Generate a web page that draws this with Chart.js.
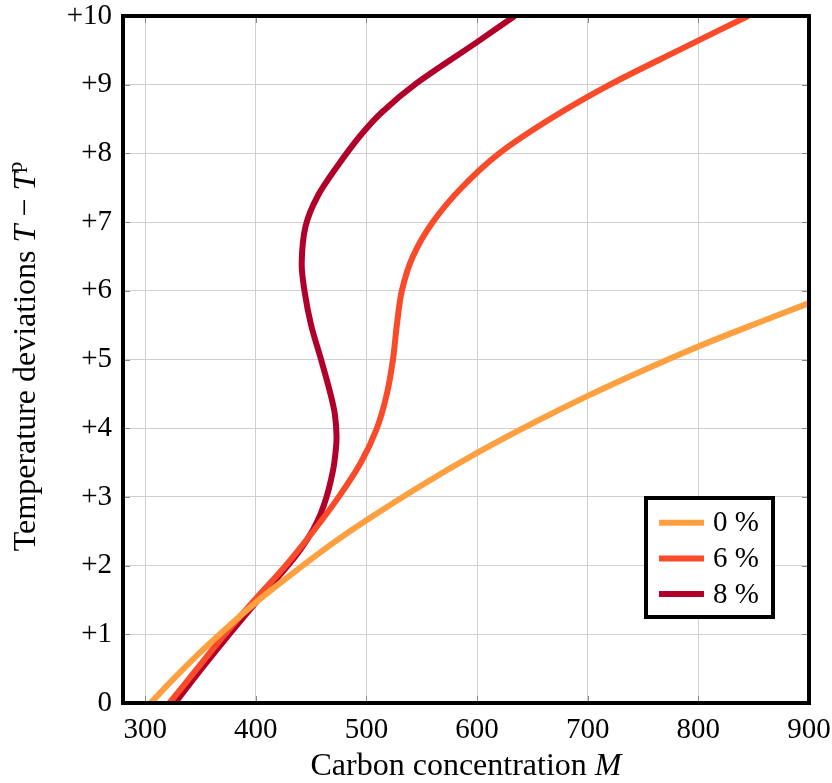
<!DOCTYPE html>
<html>
<head>
<meta charset="utf-8">
<script src="https://cdn.jsdelivr.net/npm/chart.js@4"></script>
<style>
  html, body { margin: 0; padding: 0; background: #fff; }
  #wrap { width: 832px; height: 783px; }
</style>
</head>
<body>
<div id="wrap"><canvas id="chart" width="832" height="783"></canvas></div>
<script>
// ---- data ----
const seriesLabels = ['0 %', '6 %', '8 %'];
const seriesColors = ['#fe9f40', '#f94a29', '#b1002a'];

// 0 %
const m0 = [305, 325, 350, 375, 405, 436, 470, 500, 550, 600, 650, 700, 750, 800, 850, 900];
const t0 = [0, 0.34, 0.74, 1.11, 1.53, 1.92, 2.33, 2.66, 3.17, 3.64, 4.07, 4.47, 4.84, 5.19, 5.51, 5.82];

// 6 %
const m6 = [322, 347, 372, 399, 427, 452, 475, 495, 509.5, 518.5, 524, 527.5, 532, 542, 560, 586, 620, 666, 720, 782, 845];
const t6 = [0, 0.5, 1.0, 1.5, 2.0, 2.5, 3.0, 3.5, 4.0, 4.5, 5.0, 5.5, 6.0, 6.5, 7.0, 7.5, 8.0, 8.5, 9.0, 9.5, 10];

// 8 %
const m8 = [327, 351, 376, 402, 429, 441, 451, 458.5, 464, 468, 471, 473, 471.5, 467.5, 459, 450, 444, 441.5, 445, 456, 474, 494, 514, 546, 600, 634];
const t8 = [0, 0.5, 1.0, 1.5, 2.0, 2.25, 2.5, 2.75, 3.0, 3.25, 3.5, 3.85, 4.2, 4.5, 5.0, 5.5, 6.0, 6.4, 6.94, 7.38, 7.82, 8.25, 8.6, 9.03, 9.62, 10];

const xTicks = [300, 400, 500, 600, 700, 800, 900];
const yTicks = [0, 1, 2, 3, 4, 5, 6, 7, 8, 9, 10];

const serif = "'Liberation Serif', 'DejaVu Serif', serif";

function toPoints(ms, ts) {
    return ms.map((m, i) => ({ x: m, y: ts[i] }));
}

// frame, inward ticks, axis titles, legend box
const decorations = {
    id: 'decorations',
    beforeDatasetsDraw(chart) {
        const { ctx, chartArea: a, scales } = chart;
        ctx.save();
        ctx.strokeStyle = '#8a8a8a';
        ctx.lineWidth = 1;
        const len = 7;
        xTicks.forEach(v => {
            const x = Math.round(scales.x.getPixelForValue(v)) + 0.5;
            ctx.beginPath();
            ctx.moveTo(x, a.top); ctx.lineTo(x, a.top + len);
            ctx.moveTo(x, a.bottom); ctx.lineTo(x, a.bottom - len);
            ctx.stroke();
        });
        yTicks.forEach(v => {
            const y = Math.round(scales.y.getPixelForValue(v)) + 0.5;
            ctx.beginPath();
            ctx.moveTo(a.left, y); ctx.lineTo(a.left + len, y);
            ctx.moveTo(a.right, y); ctx.lineTo(a.right - len, y);
            ctx.stroke();
        });
        ctx.restore();
    },
    afterDatasetsDraw(chart) {
        const { ctx, chartArea: a } = chart;
        ctx.save();

        // frame
        ctx.strokeStyle = '#000';
        ctx.lineWidth = 4;
        ctx.strokeRect(a.left, a.top, a.right - a.left, a.bottom - a.top);

        // legend
        const lw = 127, lh = 119;
        const lx = a.right - 36 - lw, ly = a.bottom - 86 - lh;
        ctx.fillStyle = '#fff';
        ctx.fillRect(lx, ly, lw, lh);
        ctx.strokeRect(lx, ly, lw, lh);
        ctx.font = '29px ' + serif;
        ctx.textBaseline = 'middle';
        chart.data.datasets.forEach((ds, i) => {
            const y = ly + 24.7 + i * 35.7;
            ctx.strokeStyle = ds.borderColor;
            ctx.lineWidth = 6;
            ctx.beginPath();
            ctx.moveTo(lx + 13, y); ctx.lineTo(lx + 58, y);
            ctx.stroke();
            ctx.fillStyle = '#000';
            ctx.fillText(ds.label, lx + 67, y + 1);
        });

        // x title: Carbon concentration M
        drawRuns(ctx, [
            { t: 'Carbon concentration ', f: '32px ' + serif },
            { t: 'M', f: 'italic 32px ' + serif }
        ], (a.left + a.right) / 2, 767);

        // y title: Temperature deviations T - T^p
        ctx.save();
        ctx.translate(27, (a.top + a.bottom) / 2 - 3);
        ctx.rotate(-Math.PI / 2);
        drawRuns(ctx, [
            { t: 'Temperature deviations ', f: '32px ' + serif },
            { t: 'T', f: 'italic 32px ' + serif },
            { t: ' \u2212 ', f: '32px ' + serif },
            { t: 'T', f: 'italic 32px ' + serif },
            { t: 'p', f: '22px ' + serif, dy: -11 }
        ], 0, 0);
        ctx.restore();

        ctx.restore();
    }
};

function drawRuns(ctx, runs, cx, cy) {
    ctx.save();
    ctx.fillStyle = '#000';
    ctx.textBaseline = 'middle';
    ctx.textAlign = 'left';
    let total = 0;
    runs.forEach(r => { ctx.font = r.f; r.w = ctx.measureText(r.t).width; total += r.w; });
    let x = cx - total / 2;
    runs.forEach(r => {
        ctx.font = r.f;
        ctx.fillText(r.t, x, cy + (r.dy || 0));
        x += r.w;
    });
    ctx.restore();
}

const ctx = document.getElementById('chart').getContext('2d');
new Chart(ctx, {
    type: 'scatter',
    data: {
        datasets: [
            { label: seriesLabels[0], data: toPoints(m0, t0), borderColor: seriesColors[0] },
            { label: seriesLabels[1], data: toPoints(m6, t6), borderColor: seriesColors[1] },
            { label: seriesLabels[2], data: toPoints(m8, t8), borderColor: seriesColors[2] }
        ].map(ds => Object.assign(ds, {
            showLine: true,
            borderWidth: 6,
            pointRadius: 0,
            tension: 0.3,
            fill: false
        }))
    },
    options: {
        responsive: false,
        animation: false,
        layout: { padding: { top: 16, right: 23, bottom: 0, left: 0 } },
        plugins: {
            legend: { display: false },
            tooltip: { enabled: false }
        },
        scales: {
            x: {
                type: 'linear',
                min: 280,
                max: 900,
                afterBuildTicks: s => { s.ticks = xTicks.map(v => ({ value: v })); },
                afterFit: s => { s.height = 80; s.paddingLeft = 0; s.paddingRight = 0; },
                grid: { color: '#cfcfcf', lineWidth: 1, drawTicks: false },
                border: { display: false },
                ticks: {
                    padding: 10,
                    color: '#000',
                    font: { family: serif, size: 29 },
                    maxRotation: 0
                }
            },
            y: {
                type: 'linear',
                min: 0,
                max: 10,
                afterBuildTicks: s => { s.ticks = yTicks.map(v => ({ value: v })); },
                afterFit: s => { s.width = 123; s.paddingTop = 0; s.paddingBottom = 0; },
                grid: { color: '#cfcfcf', lineWidth: 1, drawTicks: false },
                border: { display: false },
                ticks: {
                    padding: 11,
                    color: '#000',
                    font: { family: serif, size: 29 },
                    callback: v => v === 0 ? '0' : '+' + v
                }
            }
        }
    },
    plugins: [decorations]
});
</script>
</body>
</html>
